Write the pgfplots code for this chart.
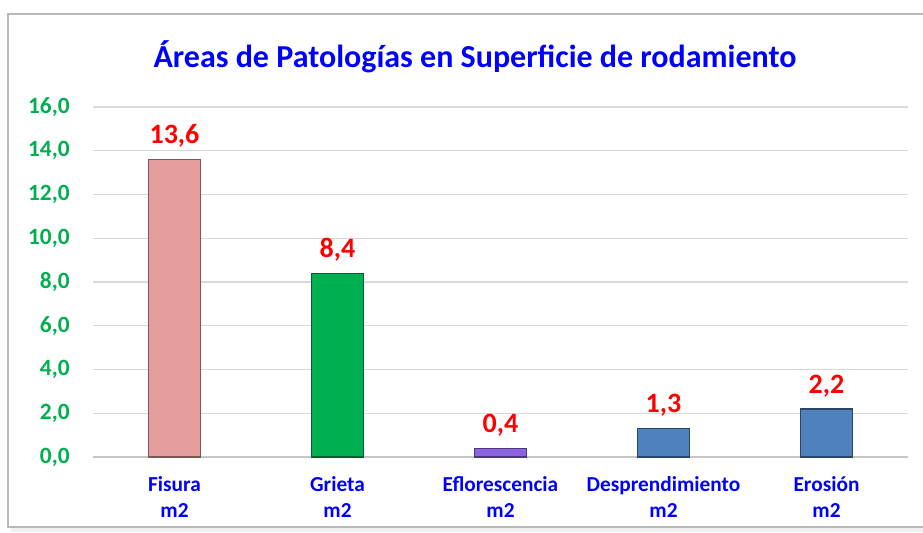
\documentclass[border=0pt]{standalone}
\usepackage{fontspec}
\setmainfont{Carlito}
\usepackage{pgfplots}
\pgfplotsset{compat=1.18}
\definecolor{titleblue}{RGB}{0,0,255}
\definecolor{tickgreen}{RGB}{0,176,80}
\definecolor{barpink}{RGB}{229,158,157}
\definecolor{bargreen}{RGB}{0,176,80}
\definecolor{barpurple}{RGB}{140,100,225}
\definecolor{barblue}{RGB}{79,129,189}
\begin{document}
\begin{tikzpicture}
\useasboundingbox (0pt,0pt) rectangle (692.25pt,399pt);
\fill[gray!12] (8.25pt,0pt) rectangle (692.25pt,387pt);
\fill[white] (6pt,3.75pt) rectangle (692.25pt,388.5pt);
\draw[gray!55,line width=0.9pt] (6pt,3.75pt) rectangle (697pt,388.5pt);
\node[font=\fontsize{24}{28}\selectfont\bfseries, text=titleblue] at (356.25pt,356.25pt) {Áreas de Patologías en Superficie de rodamiento};
\begin{axis}[
  at={(69.75pt,56.25pt)}, anchor=south west,
  scale only axis, width=611.25pt, height=262.5pt,
  ymin=0, ymax=16, xmin=-0.5, xmax=4.5,
  ytick={0,2,...,16}, xtick={0,1,2,3,4},
  xticklabels={{Fisura\\m2},{Grieta\\m2},{Eflorescencia\\m2},{Desprendimiento\\m2},{Erosión\\m2}},
  xticklabel style={align=center, text=titleblue, font=\fontsize{16}{19.5}\selectfont\bfseries, yshift=-11pt},
  yticklabel style={text=tickgreen, font=\fontsize{17.5}{20}\selectfont\bfseries, xshift=-14pt},
  /pgf/number format/assume math mode=true,
  yticklabel={\pgfmathprintnumber[fixed,fixed zerofill,precision=1,use comma]{\tick}},
  axis x line*=bottom, axis y line*=left,
  y axis line style={draw=none},
  x axis line style={draw=gray!45, line width=1pt, -},
  ymajorgrids, grid style={draw=gray!30, line width=1pt},
  major tick length=0pt,
  ybar, bar width=39pt, bar shift=0pt,
  nodes near coords={\pgfmathprintnumber[fixed,fixed zerofill,precision=1,use comma]{\pgfplotspointmeta}},
  nodes near coords style={text=red, font=\fontsize{21}{24}\selectfont\bfseries, yshift=5pt},
  clip=false,
]
\addplot[fill=barpink, draw=barpink!55!black, line width=1pt] coordinates {(0,13.6)};
\addplot[fill=bargreen, draw=bargreen!55!black, line width=1pt] coordinates {(1,8.4)};
\addplot[fill=barpurple, draw=barpurple!55!black, line width=1pt] coordinates {(2,0.4)};
\addplot[fill=barblue, draw=barblue!55!black, line width=1pt] coordinates {(3,1.3)};
\addplot[fill=barblue, draw=barblue!55!black, line width=1pt] coordinates {(4,2.2)};
\end{axis}
\end{tikzpicture}
\end{document}
